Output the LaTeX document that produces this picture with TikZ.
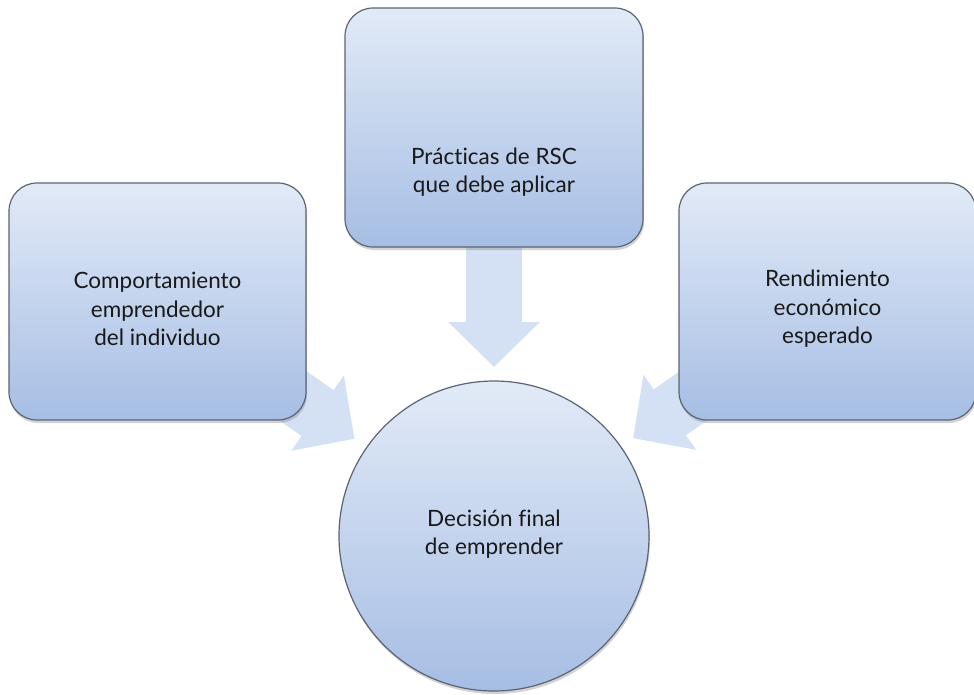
\documentclass[tikz,border=0pt]{standalone}
\usepackage{fontspec}
\setmainfont{Lato}[Ligatures=NoCommon]
\usetikzlibrary{arrows.meta,positioning,calc,shadows,backgrounds}
\definecolor{boxTop}{RGB}{226,234,247}
\definecolor{boxBottom}{RGB}{166,190,228}
\definecolor{boxEdge}{RGB}{90,100,115}
\definecolor{flowFill}{RGB}{212,224,243}

\begin{document}
\begin{tikzpicture}[x=1pt,y=-1pt,
    box/.style={rectangle,rounded corners=28pt,draw=boxEdge,line width=1.2pt,
                top color=boxTop,bottom color=boxBottom,
                minimum width=297pt,minimum height=237pt,
                drop shadow={opacity=0.35,shadow xshift=1pt,shadow yshift=-3pt}},
    goal/.style={circle,draw=boxEdge,line width=1.2pt,
                 top color=boxTop,bottom color=boxBottom,minimum size=310pt,
                 drop shadow={opacity=0.35,shadow xshift=1pt,shadow yshift=-3pt}},
    txt/.style={align=center,font=\fontsize{22.5}{28.5}\selectfont,text=black!90},
    flow/.style={line width=56pt,draw=flowFill,
                 -{Triangle[width=89pt,length=45pt]}}]

    \useasboundingbox (0,0) rectangle (974,694);

    % boxes
    \node[box,minimum width=298pt,minimum height=239pt] (rsc) at (494,127.5) {};
    \node[box] (comp) at (157.5,301.5) {};
    \node[box] (rend) at (827.5,301.5) {};
    \node[goal] (dec) at (494,536) {};

    % texts
    \node[txt] (rscTxt) at (494,172) {Prácticas de RSC\\que debe aplicar};
    \node[txt] (compTxt) at (157.5,309) {Comportamiento\\emprendedor\\del individuo};
    \node[txt] (rendTxt) at (827.5,309) {Rendimiento\\económico\\esperado};
    \node[txt] (decTxt) at (494,534) {Decisión final\\de emprender};

    % arrows
    \coordinate (rscTip) at ($(dec)!169pt!(rsc)$);
    \coordinate (compTip) at ($(dec)!170pt!(comp)$);
    \coordinate (rendTip) at ($(dec)!170pt!(rend)$);
    \begin{scope}[on background layer]
      \draw[flow] (rsc.center) -- (rscTip);
      \draw[flow] (comp.center) -- (compTip);
      \draw[flow] (rend.center) -- (rendTip);
    \end{scope}
\end{tikzpicture}
\end{document}
